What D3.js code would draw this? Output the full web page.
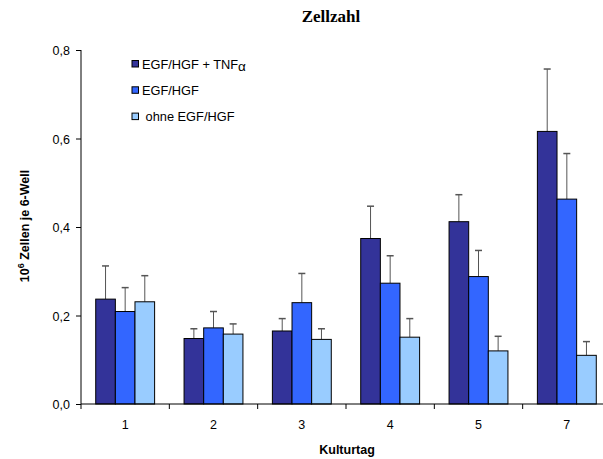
<!DOCTYPE html>
<html>
<head>
<meta charset="utf-8">
<script src="https://cdn.jsdelivr.net/npm/d3@7"></script>
<style>
body { margin: 0; background: #fff; }
svg { display: block; font-family: Arial, "Liberation Sans", sans-serif; }
</style>
</head>
<body>
<svg width="603" height="459"></svg>
<script>
var days = ["1", "2", "3", "4", "5", "7"];
var seriesNames = ["EGF/HGF + TNF", "EGF/HGF", " ohne EGF/HGF"];
var colors = ["#333399", "#3366FF", "#99CCFF"];
var tnfValues = [0.237, 0.148, 0.165, 0.374, 0.412, 0.616];
var tnfErrors = [0.075, 0.022, 0.028, 0.073, 0.061, 0.141];
var egfValues = [0.209, 0.172, 0.229, 0.273, 0.288, 0.463];
var egfErrors = [0.054, 0.037, 0.066, 0.062, 0.059, 0.103];
var ohneValues = [0.231, 0.158, 0.146, 0.151, 0.120, 0.110];
var ohneErrors = [0.059, 0.023, 0.024, 0.042, 0.033, 0.031];
var yTicks = [0, 0.2, 0.4, 0.6, 0.8];

var values = [tnfValues, egfValues, ohneValues];
var errors = [tnfErrors, egfErrors, ohneErrors];

var svg = d3.select("svg");

var x = d3.scaleBand().domain(days).range([81, 611]);
var y = d3.scaleLinear().domain([0, 0.8]).range([404, 50]);

var bw = x.bandwidth();
var barW = bw * 2 / 9;
var offset = bw / 6;

// bars
var groups = svg.selectAll("g.series")
	.data(values)
	.enter()
	.append("g")
	.attr("class", "series");

groups.each(function (vals, s) {
	var g = d3.select(this);
	vals.forEach(function (v, i) {
		var bx = x(days[i]) + offset + s * barW;
		// error bar (upper only)
		g.append("line")
			.attr("x1", bx + barW / 2)
			.attr("x2", bx + barW / 2)
			.attr("y1", y(v))
			.attr("y2", y(v + errors[s][i]))
			.attr("stroke", "#555")
			.attr("stroke-width", 1);
		g.append("line")
			.attr("x1", bx + barW / 2 - 3.5)
			.attr("x2", bx + barW / 2 + 3.5)
			.attr("y1", y(v + errors[s][i]))
			.attr("y2", y(v + errors[s][i]))
			.attr("stroke", "#555")
			.attr("stroke-width", 1.5);
		g.append("rect")
			.attr("x", bx)
			.attr("y", y(v))
			.attr("width", barW)
			.attr("height", y(0) - y(v))
			.attr("fill", colors[s])
			.attr("stroke", "#000")
			.attr("stroke-width", 1);
	});
});

// y axis
var yAxis = svg.append("g")
	.attr("transform", "translate(81,0)")
	.call(d3.axisLeft(y).tickValues(yTicks).tickSize(5).tickPadding(6)
		.tickFormat(function (d) { return d3.format(".1f")(d).replace(".", ","); }));
yAxis.select(".domain").attr("d", "M0," + y(0.8) + "V" + y(0));
yAxis.selectAll("text").attr("font-size", 12.5).attr("font-family", "Arial, 'Liberation Sans', sans-serif").attr("fill", "#000").attr("dy", "0.36em");

// x axis
var xAxis = svg.append("g")
	.attr("transform", "translate(0,404)");
xAxis.append("line")
	.attr("x1", 81).attr("x2", 611).attr("y1", 0).attr("y2", 0)
	.attr("stroke", "#000");
xAxis.selectAll("line.tick")
	.data(days.concat(["end"]))
	.enter()
	.append("line")
	.attr("class", "tick")
	.attr("x1", function (d, i) { return i < days.length ? x(d) : x(days[days.length - 1]) + bw; })
	.attr("x2", function (d, i) { return i < days.length ? x(d) : x(days[days.length - 1]) + bw; })
	.attr("y1", 0).attr("y2", 5)
	.attr("stroke", "#000");
xAxis.selectAll("text")
	.data(days)
	.enter()
	.append("text")
	.attr("x", function (d) { return x(d) + bw / 2; })
	.attr("y", 25)
	.attr("text-anchor", "middle")
	.attr("font-size", 12.5)
	.text(function (d) { return d; });

// titles
svg.append("text")
	.attr("x", 331).attr("y", 22)
	.attr("text-anchor", "middle")
	.attr("font-family", "'Liberation Serif', 'Times New Roman', serif")
	.attr("font-weight", "bold")
	.attr("font-size", 17)
	.text("Zellzahl");

svg.append("text")
	.attr("x", 347).attr("y", 454)
	.attr("text-anchor", "middle")
	.attr("font-weight", "bold")
	.attr("font-size", 12.5)
	.text("Kulturtag");

var yl = svg.append("text")
	.attr("transform", "translate(29,226) rotate(-90)")
	.attr("text-anchor", "middle")
	.attr("font-weight", "bold")
	.attr("font-size", 12.5);
yl.append("tspan").text("10");
yl.append("tspan").attr("dy", -5).attr("font-size", 9).text("6");
yl.append("tspan").attr("dy", 5).text(" Zellen je 6-Well");

// legend
var legend = svg.selectAll("g.legend")
	.data(seriesNames)
	.enter()
	.append("g")
	.attr("class", "legend")
	.attr("transform", function (d, i) { return "translate(132," + (60.5 + i * 26.3) + ")"; });
legend.append("rect")
	.attr("width", 6.5).attr("height", 6.5)
	.attr("fill", function (d, i) { return colors[i]; })
	.attr("stroke", "#000");
legend.append("text")
	.attr("x", 10).attr("y", 8)
	.attr("font-size", 12.8)
	.attr("xml:space", "preserve")
	.style("white-space", "pre")
	.each(function (d, i) {
		var t = d3.select(this);
		t.append("tspan").text(d);
		if (i === 0) {
			t.append("tspan").attr("dy", 2).attr("font-size", 13.5).text("α");
		}
	});
</script>
</body>
</html>
